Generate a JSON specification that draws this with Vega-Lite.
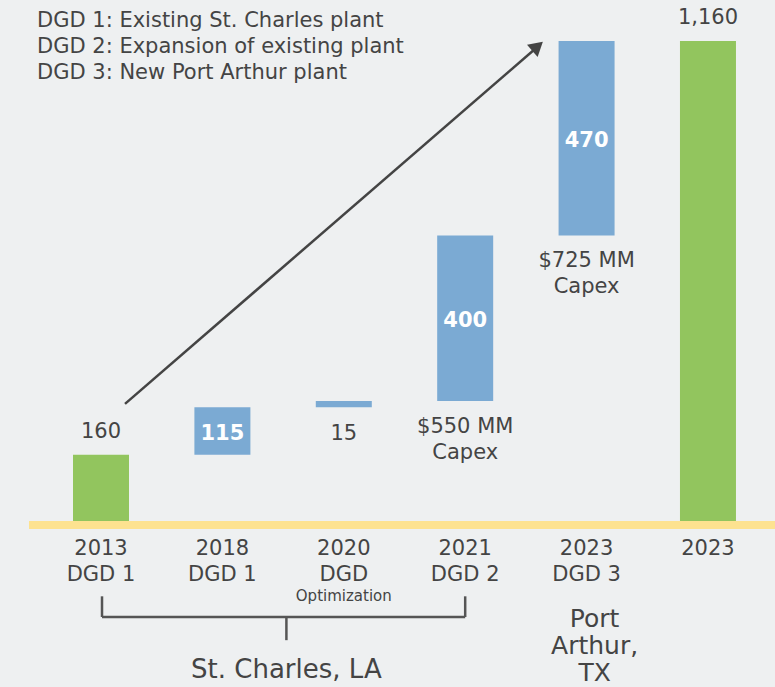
{
  "$schema": "https://vega.github.io/schema/vega-lite/v6.json",
  "width": 746,
  "height": 521,
  "autosize": {"type": "none"},
  "padding": {"left": 29, "top": 0, "right": 0, "bottom": 166},
  "background": "#eef0f1",
  "config": {"view": {"stroke": null}, "font": "DejaVu Sans"},
  "datasets": {
    "bars": [
      {"cat": "2013|DGD 1", "start": 0, "end": 160, "type": "total", "label": "160"},
      {"cat": "2018|DGD 1", "start": 160, "end": 275, "type": "inc", "label": "115"},
      {"cat": "2020|DGD", "start": 275, "end": 290, "type": "inc", "label": "15"},
      {"cat": "2021|DGD 2", "start": 290, "end": 690, "type": "inc", "label": "400", "capex": ["$550 MM", "Capex"]},
      {"cat": "2023|DGD 3", "start": 690, "end": 1160, "type": "inc", "label": "470", "capex": ["$725 MM", "Capex"]},
      {"cat": "2023", "start": 0, "end": 1160, "type": "total", "label": "1,160"}
    ],
    "one": [{}]
  },
  "layer": [
    {
      "data": {"name": "bars"},
      "mark": {"type": "bar"},
      "encoding": {
        "x": {
          "field": "cat", "type": "nominal", "sort": null,
          "scale": {"domain": ["2013|DGD 1", "2018|DGD 1", "2020|DGD", "2021|DGD 2", "2023|DGD 3", "2023"], "paddingInner": 0.5387, "paddingOuter": 0.342, "align": 0.53},
          "axis": {
            "title": null, "labelExpr": "split(datum.label, '|')", "labelAngle": 0,
            "domain": false, "ticks": false, "labelFont": "DejaVu Sans", "labelFontSize": 21,
            "labelColor": "#444444", "labelPadding": 16, "labelLineHeight": 26
          }
        },
        "y": {"field": "start", "type": "quantitative", "scale": {"domain": [0, 1259], "nice": false, "zero": false}, "axis": null},
        "y2": {"field": "end"},
        "color": {"field": "type", "type": "nominal", "scale": {"domain": ["total", "inc"], "range": ["#92c55e", "#7baad3"]}, "legend": null}
      }
    },
    {
      "data": {"name": "one"},
      "mark": {"type": "rule", "strokeWidth": 8, "color": "#fde290"},
      "encoding": {"y": {"datum": -9.7, "type": "quantitative", "scale": {"domain": [0, 1259], "nice": false, "zero": false}}}
    },
    {
      "data": {"name": "bars"},
      "transform": [{"filter": "datum.type == 'total'"}],
      "mark": {"type": "text", "dy": -23, "baseline": "middle", "fontSize": 21, "color": "#444444"},
      "encoding": {
        "x": {"field": "cat", "type": "nominal", "sort": null},
        "y": {"field": "end", "type": "quantitative", "scale": {"domain": [0, 1259], "nice": false, "zero": false}},
        "text": {"field": "label"}
      }
    },
    {
      "data": {"name": "bars"},
      "transform": [
        {"filter": "datum.type == 'inc' && datum.end - datum.start > 50"},
        {"calculate": "(datum.start + datum.end) / 2", "as": "mid"}
      ],
      "mark": {"type": "text", "dy": 3, "baseline": "middle", "fontSize": 21, "fontWeight": "bold", "color": "#ffffff"},
      "encoding": {
        "x": {"field": "cat", "type": "nominal", "sort": null},
        "y": {"field": "mid", "type": "quantitative", "scale": {"domain": [0, 1259], "nice": false, "zero": false}},
        "text": {"field": "label"}
      }
    },
    {
      "data": {"name": "bars"},
      "transform": [{"filter": "datum.type == 'inc' && datum.end - datum.start < 50"}],
      "mark": {"type": "text", "dy": 27, "baseline": "middle", "fontSize": 21, "color": "#444444"},
      "encoding": {
        "x": {"field": "cat", "type": "nominal", "sort": null},
        "y": {"field": "start", "type": "quantitative", "scale": {"domain": [0, 1259], "nice": false, "zero": false}},
        "text": {"field": "label"}
      }
    },
    {
      "data": {"name": "bars"},
      "transform": [{"filter": "isValid(datum.capex)"}],
      "mark": {"type": "text", "dy": 32, "baseline": "alphabetic", "fontSize": 21, "lineHeight": 26, "color": "#444444"},
      "encoding": {
        "x": {"field": "cat", "type": "nominal", "sort": null},
        "y": {"field": "start", "type": "quantitative", "scale": {"domain": [0, 1259], "nice": false, "zero": false}},
        "text": {"field": "capex"}
      }
    },
    {
      "data": {"name": "one"},
      "mark": {"type": "text", "align": "left", "baseline": "alphabetic", "dx": -64, "fontSize": 21, "lineHeight": 26, "color": "#444444",
        "text": ["DGD 1: Existing St. Charles plant", "DGD 2: Expansion of existing plant", "DGD 3: New Port Arthur plant"]},
      "encoding": {
        "x": {"datum": "2013|DGD 1", "type": "nominal"},
        "y": {"datum": 1194, "type": "quantitative", "scale": {"domain": [0, 1259], "nice": false, "zero": false}}
      }
    },
    {
      "data": {"name": "one"},
      "mark": {"type": "rule", "strokeWidth": 2.5, "color": "#444444", "xOffset": 24, "x2Offset": -49},
      "encoding": {
        "x": {"datum": "2013|DGD 1", "type": "nominal"},
        "x2": {"datum": "2023|DGD 3"},
        "y": {"datum": 283, "type": "quantitative", "scale": {"domain": [0, 1259], "nice": false, "zero": false}},
        "y2": {"datum": 1146}
      }
    },
    {
      "data": {"name": "one"},
      "mark": {"type": "point", "shape": "triangle-up", "filled": true, "size": 260, "angle": 49, "color": "#444444", "opacity": 1, "xOffset": -49},
      "encoding": {
        "x": {"datum": "2023|DGD 3", "type": "nominal"},
        "y": {"datum": 1147, "type": "quantitative", "scale": {"domain": [0, 1259], "nice": false, "zero": false}}
      }
    },
    {
      "data": {"name": "one"},
      "mark": {"type": "text", "baseline": "middle", "fontSize": 15, "color": "#444444", "text": "Optimization"},
      "encoding": {
        "x": {"datum": "2020|DGD", "type": "nominal"},
        "y": {"datum": -182, "type": "quantitative", "scale": {"domain": [0, 1259], "nice": false, "zero": false}}
      }
    },
    {
      "data": {"name": "one"},
      "mark": {"type": "rule", "strokeWidth": 2.5, "color": "#555555", "xOffset": 1},
      "encoding": {
        "x": {"datum": "2013|DGD 1", "type": "nominal"},
        "y": {"datum": -182, "type": "quantitative", "scale": {"domain": [0, 1259], "nice": false, "zero": false}},
        "y2": {"datum": -232}
      }
    },
    {
      "data": {"name": "one"},
      "mark": {"type": "rule", "strokeWidth": 2.5, "color": "#555555"},
      "encoding": {
        "x": {"datum": "2021|DGD 2", "type": "nominal"},
        "y": {"datum": -182, "type": "quantitative", "scale": {"domain": [0, 1259], "nice": false, "zero": false}},
        "y2": {"datum": -232}
      }
    },
    {
      "data": {"name": "one"},
      "mark": {"type": "rule", "strokeWidth": 2.5, "color": "#555555", "xOffset": 1},
      "encoding": {
        "x": {"datum": "2013|DGD 1", "type": "nominal"},
        "x2": {"datum": "2021|DGD 2"},
        "y": {"datum": -232, "type": "quantitative", "scale": {"domain": [0, 1259], "nice": false, "zero": false}}
      }
    },
    {
      "data": {"name": "one"},
      "mark": {"type": "rule", "strokeWidth": 2.5, "color": "#555555", "xOffset": 64},
      "encoding": {
        "x": {"datum": "2018|DGD 1", "type": "nominal"},
        "y": {"datum": -232, "type": "quantitative", "scale": {"domain": [0, 1259], "nice": false, "zero": false}},
        "y2": {"datum": -288}
      }
    },
    {
      "data": {"name": "one"},
      "mark": {"type": "text", "baseline": "middle", "dx": 64, "fontSize": 26, "color": "#444444", "text": "St. Charles, LA"},
      "encoding": {
        "x": {"datum": "2018|DGD 1", "type": "nominal"},
        "y": {"datum": -360, "type": "quantitative", "scale": {"domain": [0, 1259], "nice": false, "zero": false}}
      }
    },
    {
      "data": {"name": "one"},
      "mark": {"type": "text", "baseline": "alphabetic", "dx": 8, "fontSize": 25, "lineHeight": 27, "color": "#444444", "text": ["Port", "Arthur,", "TX"]},
      "encoding": {
        "x": {"datum": "2023|DGD 3", "type": "nominal"},
        "y": {"datum": -256, "type": "quantitative", "scale": {"domain": [0, 1259], "nice": false, "zero": false}}
      }
    }
  ]
}
